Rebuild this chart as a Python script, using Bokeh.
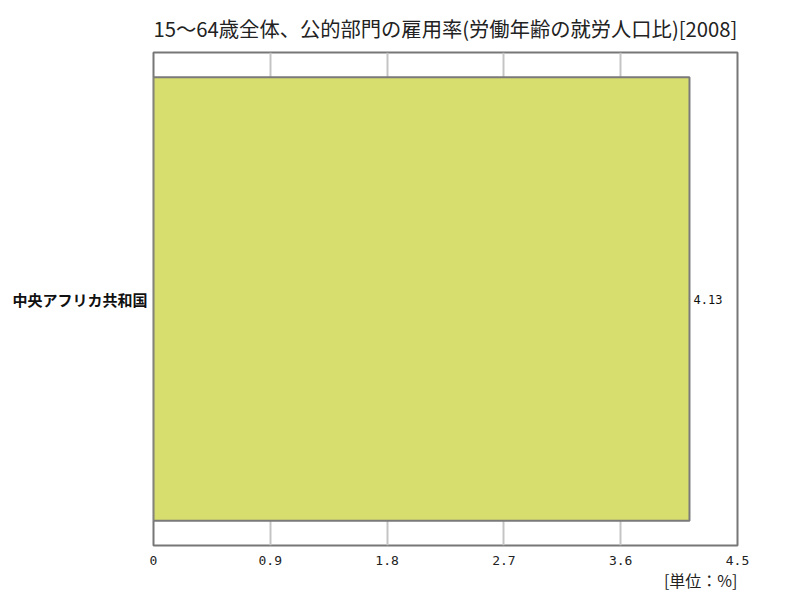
from bokeh.plotting import figure
from bokeh.models import FixedTicker, Title, ColumnDataSource
from bokeh.core.properties import value
from bokeh.embed import file_html
from bokeh.resources import INLINE

# data
categories = ["中央アフリカ共和国"]
values = [4.13]
value_labels = ["4.13"]
x_ticks = [0, 0.9, 1.8, 2.7, 3.6, 4.5]
x_tick_labels = ["0", "0.9", "1.8", "2.7", "3.6", "4.5"]
title_text = "15〜64歳全体、公的部門の雇用率(労働年齢の就労人口比)[2008]"
unit_text = "[単位：%]"

JP = "Noto Sans CJK JP"

p = figure(width=784, height=592, y_range=categories, x_range=(0, 4.5),
           output_backend="svg", toolbar_location=None,
           min_border_left=153, min_border_right=47, min_border_top=52, min_border_bottom=47)
p.background_fill_color = "white"
p.border_fill_color = "white"
p.y_range.range_padding = 0

p.title = Title(text=title_text, align="center", text_font=JP, text_font_size="20.3px",
                text_font_style="normal", text_color="#222222", text_line_height=1.2)
p.title.offset = 0
p.title.standoff = 20

src = ColumnDataSource(dict(cat=categories, val=values, lab=value_labels))
p.hbar(y="cat", right="val", left=0, height=0.9, source=src,
       fill_color="#d8de6e", line_color="#7a7a7a", line_width=2)
p.text(x="val", y="cat", text="lab", source=src, x_offset=4,
       text_baseline="middle", text_align="left", text_font=value("DejaVu Sans Mono"),
       text_font_size="12px", text_color="#111111")

p.outline_line_color = "#777777"
p.outline_line_width = 2

p.xaxis.ticker = FixedTicker(ticks=x_ticks)
p.xaxis.major_label_overrides = {t: l for t, l in zip(x_ticks, x_tick_labels)}
p.xaxis.axis_line_color = None
p.xaxis.major_tick_line_color = None
p.xaxis.minor_tick_line_color = None
p.xaxis.major_label_text_font = "DejaVu Sans Mono"
p.xaxis.major_label_text_font_size = "13px"
p.xaxis.major_label_text_color = "#222222"
p.xaxis.major_label_standoff = 4

p.yaxis.axis_line_color = None
p.yaxis.major_tick_line_color = None
p.yaxis.minor_tick_line_color = None
p.yaxis.major_label_text_font = JP
p.yaxis.major_label_text_font_style = "bold"
p.yaxis.major_label_text_font_size = "15px"
p.yaxis.major_label_text_color = "#111111"
p.yaxis.major_label_standoff = 0

p.xgrid.grid_line_color = "#c4c4c4"
p.xgrid.grid_line_width = 2
p.ygrid.grid_line_color = None

p.add_layout(Title(text=unit_text, align="right", text_font=JP, text_font_size="16px",
                   text_font_style="normal", text_color="#222222", text_line_height=0.8,
                   offset=0, standoff=-3), "below")

open("out.html", "w").write(file_html(p, INLINE))
